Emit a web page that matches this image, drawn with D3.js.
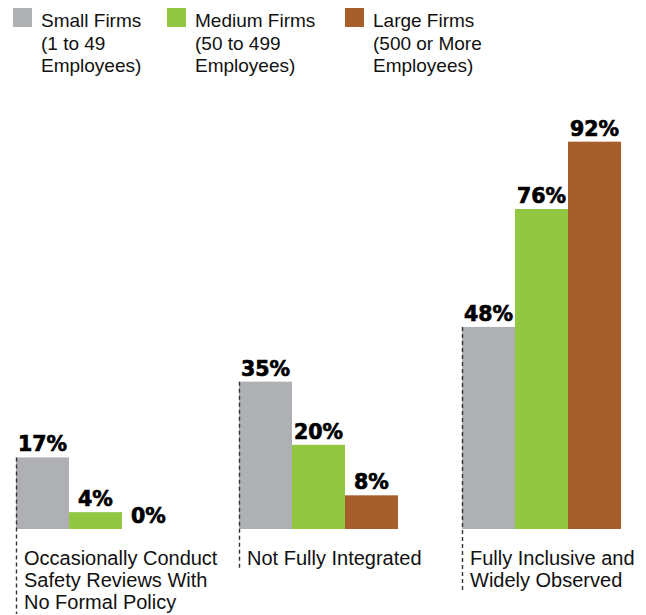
<!DOCTYPE html>
<html>
<head>
<meta charset="utf-8">
<script src="https://cdn.jsdelivr.net/npm/d3@7"></script>
<style>
  html, body { margin: 0; padding: 0; background: #fff; }
  svg { display: block; }
</style>
</head>
<body>
<svg id="chart" width="646" height="615"></svg>
<script>
const categories = [
  ["Occasionally Conduct", "Safety Reviews With", "No Formal Policy"],
  ["Not Fully Integrated"],
  ["Fully Inclusive and", "Widely Observed"]
];
const seriesNames = ["Small Firms", "Medium Firms", "Large Firms"];
const seriesLegend = [
  ["Small Firms", "(1 to 49", "Employees)"],
  ["Medium Firms", "(50 to 499", "Employees)"],
  ["Large Firms", "(500 or More", "Employees)"]
];
const smallValues = [17, 35, 48];
const mediumValues = [4, 20, 76];
const largeValues = [0, 8, 92];
const colors = ["#aeb0b3", "#92c741", "#a65f2a"];

const values = [smallValues, mediumValues, largeValues];
const svg = d3.select("#chart");

const x0 = d3.scaleBand().domain(d3.range(categories.length)).range([16, 621]).paddingInner(64 / 223).paddingOuter(0);
const x1 = d3.scaleBand().domain(d3.range(seriesNames.length)).range([0, x0.bandwidth()]).padding(0);
const y = d3.scaleLinear().domain([0, 100]).range([529, 108]);
const color = d3.scaleOrdinal().domain(d3.range(seriesNames.length)).range(colors);

// Legend
const legendX = [13, 167, 345];
const lg = svg.append("g").selectAll("g").data(seriesLegend).join("g")
  .attr("transform", (d, i) => `translate(${legendX[i]},0)`);
lg.append("rect").attr("x", 0).attr("y", 8).attr("width", 19).attr("height", 19)
  .attr("fill", (d, i) => color(i));
lg.append("text")
  .attr("font-family", "'Liberation Sans', Arial, sans-serif")
  .attr("font-size", 19).attr("fill", "#111")
  .selectAll("tspan").data(d => d).join("tspan")
  .attr("x", 28).attr("y", (d, i) => 27 + i * 22.5).text(d => d);

// Groups
const groups = svg.append("g").selectAll("g").data(categories).join("g")
  .attr("transform", (d, i) => `translate(${x0(i)},0)`);

groups.selectAll("rect").data((d, i) => values.map((v, s) => ({ s, v: v[i] }))).join("rect")
  .attr("x", d => x1(d.s)).attr("width", x1.bandwidth())
  .attr("y", d => y(d.v)).attr("height", d => y(0) - y(d.v))
  .attr("fill", d => color(d.s));

groups.selectAll("text.val").data((d, i) => values.map((v, s) => ({ s, v: v[i] }))).join("text")
  .attr("class", "val")
  .attr("x", d => x1(d.s) + x1.bandwidth() / 2)
  .attr("y", d => y(d.v) - 6)
  .attr("text-anchor", "middle")
  .attr("font-family", "'DejaVu Sans', sans-serif")
  .attr("font-weight", "bold")
  .attr("font-size", 20.5)
  .attr("fill", "#000")
  .attr("stroke", "#000")
  .attr("stroke-width", 0.7)
  .text(d => d.v + "%");

// Dashed guide lines
groups.append("line")
  .attr("x1", 0.5).attr("x2", 0.5)
  .attr("y1", (d, i) => y(smallValues[i]))
  .attr("y2", d => 565 + (d.length - 1) * 22 + 5)
  .attr("stroke", "#333").attr("stroke-width", 1.4)
  .attr("stroke-dasharray", "4,3");

// Category labels
groups.append("text")
  .attr("font-family", "'Liberation Sans', Arial, sans-serif")
  .attr("font-size", 20).attr("fill", "#111")
  .selectAll("tspan").data(d => d).join("tspan")
  .attr("x", 8).attr("y", (d, i) => 565 + i * 22).text(d => d);
</script>
</body>
</html>
